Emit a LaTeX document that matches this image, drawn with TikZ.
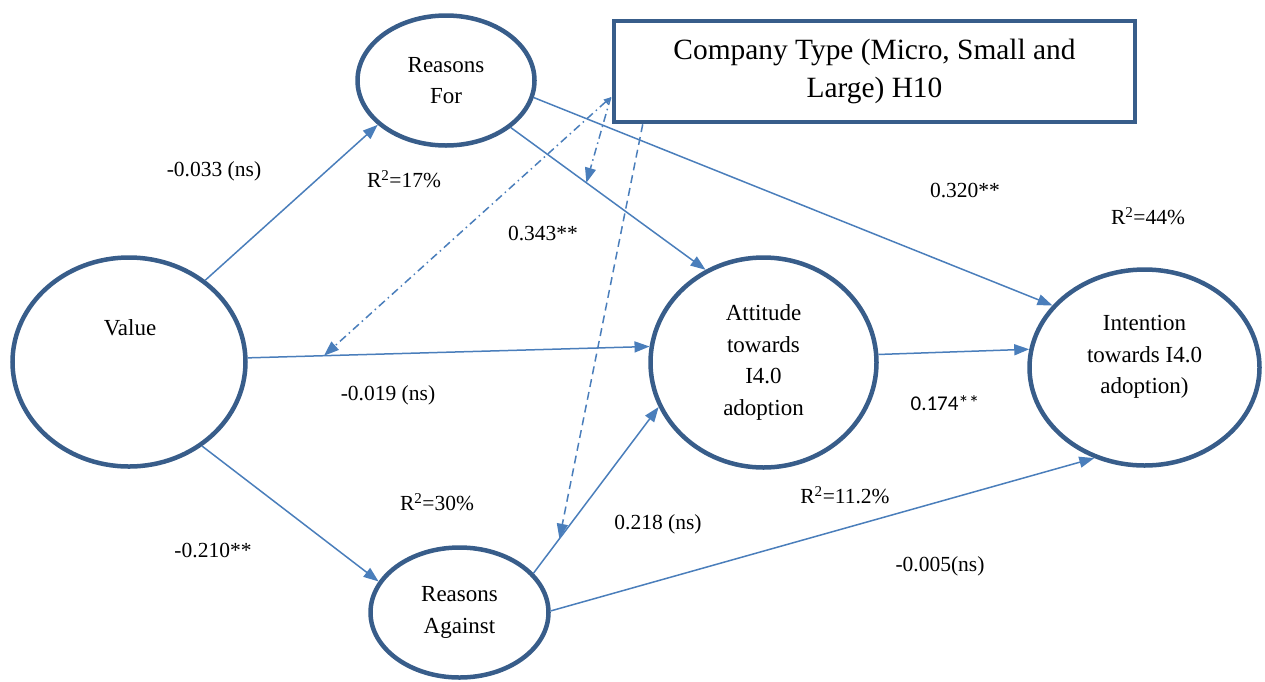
\documentclass[tikz,border=0pt]{standalone}
\usepackage{fontspec}
\setmainfont{Liberation Serif}
\newfontfamily\calib{Carlito}
\usetikzlibrary{arrows.meta,calc,shapes.geometric}
\definecolor{edgeblue}{HTML}{385D8A}
\definecolor{linkblue}{HTML}{4A7EBB}
\tikzset{
  latent/.style={ellipse, draw=edgeblue, line width=4.5pt, fill=white, inner sep=0pt,
    align=center, font=\fontsize{23}{31.5}\selectfont},
  nodetext/.style={align=center, inner sep=0pt, font=\fontsize{23}{31.5}\selectfont},
  link/.style={draw=linkblue, line width=1.5pt, -{Triangle[length=15pt,width=11pt]}},
  modlink/.style={draw=linkblue, line width=1.5pt},
  dashdot/.style={dash pattern=on 8pt off 4pt on 1.5pt off 4pt},
  dashline/.style={dash pattern=on 8pt off 5pt},
  lbl/.style={inner sep=0pt, font=\fontsize{21.5}{25}\selectfont},
  boxstyle/.style={draw=edgeblue, line width=4.5pt, fill=white, inner sep=0pt,
    align=center, font=\fontsize{29.4}{38}\selectfont}
}
\begin{document}
\begin{tikzpicture}[x=1pt,y=-1pt]
\useasboundingbox (0,0) rectangle (1265,681);

% latent constructs
\node[latent, minimum width=233pt, minimum height=209pt] (value) at (129,362) {};
\node[nodetext] (valuetxt) at (130,328) {Value};
\node[latent, minimum width=177pt, minimum height=130pt] (rf) at (446,80.5) {Reasons\\For};
\node[latent, minimum width=178pt, minimum height=130pt] (ra) at (459.5,612.5) {Reasons\\Against};
\node[latent, minimum width=226pt, minimum height=210pt] (att) at (763.5,362.5) {Attitude\\towards\\I4.0\\adoption};
\node[latent, minimum width=230pt, minimum height=196pt] (int) at (1144.5,367.5) {};
\node[nodetext] (inttxt) at (1144.5,357) {Intention\\towards I4.0\\adoption)};

% moderator box
\node[boxstyle, minimum width=521pt, minimum height=101pt] (box) at (874.5,71.5)
  {Company Type (Micro, Small and\\Large) H10};

% structural paths
\draw[link] (value.47.9) -- (rf.213.3);
\draw[link] (value.2.4) -- coordinate[pos=0.19] (m1) (att.172.4);
\draw[link] (value.-49.8) -- (ra.159);
\draw[link] (rf.-36) -- coordinate[pos=0.388] (m2) (att.122);
\draw[link] (rf.-11) -- (int.146.3);
\draw[link] (att.4.7) -- (int.171.8);
\draw[link] (ra.28.9) -- coordinate[pos=0.207] (m3) (att.203.3);
\draw[link] (ra.1) -- (int.241.2);

% moderation lines
\coordinate (c1) at ($(box.south west)+(-1,-27)$);
\coordinate (c2) at ($(box.south west)+(31,0)$);
\draw[modlink, dashdot, {Triangle[length=7pt,width=6pt]}-{Triangle[length=15pt,width=11pt]}] (c1) -- (m1);
\draw[modlink, dashdot, -{Triangle[length=15pt,width=11pt]}] (c1) -- (m2);
\draw[modlink, dashline, -{Triangle[length=15pt,width=11pt]}] (c2) -- (m3);

% labels
\node[lbl] (l1) at (214,171) {-0.033 (ns)};
\node[lbl] (l2) at (404,179) {R\textsuperscript{2}=17\%};
\node[lbl] (l3) at (543,233) {0.343**};
\node[lbl] (l4) at (965,190) {0.320**};
\node[lbl] (l5) at (1148,216) {R\textsuperscript{2}=44\%};
\node[lbl] (l6) at (388,395) {-0.019 (ns)};
\node[lbl, font=\calib\fontsize{21}{25}\selectfont] (l7) at (945,403) {0.174**};
\node[lbl] (l8) at (437,502) {R\textsuperscript{2}=30\%};
\node[lbl] (l9) at (845,495) {R\textsuperscript{2}=11.2\%};
\node[lbl] (l10) at (658,524) {0.218 (ns)};
\node[lbl] (l11) at (213,550) {-0.210**};
\node[lbl] (l12) at (940,566) {-0.005(ns)};
\end{tikzpicture}
\end{document}
